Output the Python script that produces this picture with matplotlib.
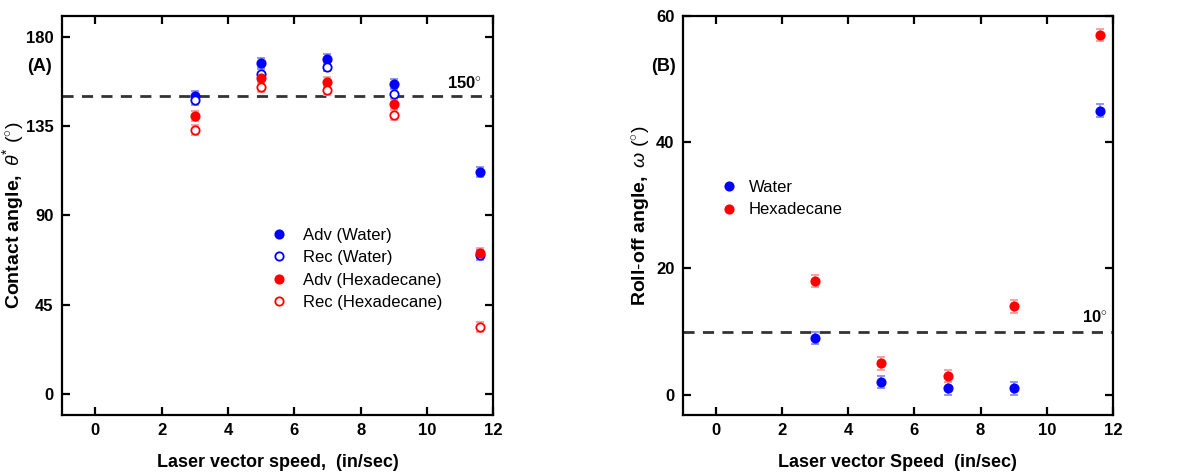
import matplotlib
matplotlib.use('Agg')
import matplotlib.pyplot as plt
from matplotlib.lines import Line2D

plt.rcParams['font.family'] = ['Liberation Sans', 'DejaVu Sans']
plt.rcParams['mathtext.fontset'] = 'custom'
plt.rcParams['mathtext.rm'] = 'Liberation Sans'
plt.rcParams['mathtext.it'] = 'Liberation Sans:italic'
plt.rcParams['mathtext.bf'] = 'Liberation Sans:bold'

# 数据 (A) 接触角
speed = [3, 5, 7, 9, 11.6]
adv_water = [150, 167, 169, 156, 112]
rec_water = [148, 161, 165, 151, 70]
adv_hex = [140, 159, 157, 146, 71]
rec_hex = [133, 154.5, 153, 140.5, 34]
err_a = [2.5, 2.5, 2.5, 2.5, 2.5]

# 数据 (B) 滚动角
roll_water = [9, 2, 1, 1, 45]
roll_hex = [18, 5, 3, 14, 57]
err_b = [1, 1, 1, 1, 1]

blue, lblue = '#0000ff', '#8c8cff'
red, lred = '#ff0000', '#ff9a9a'

fig = plt.figure(figsize=(11.98, 4.74), dpi=100)
ax1 = fig.add_axes([0.0518, 0.1245, 0.360, 0.842])
ax2 = fig.add_axes([0.570, 0.1245, 0.359, 0.842])


def style(ax):
    for s in ax.spines.values():
        s.set_linewidth(1.6)
    ax.tick_params(direction='in', length=6, width=1.6, top=True, right=True,
                   labelsize=12, pad=6)
    for lab in ax.get_xticklabels() + ax.get_yticklabels():
        lab.set_fontweight('bold')


def pts(ax, y, e, c, ec, filled):
    ax.errorbar(speed, y, yerr=e, fmt='o', ms=6, mew=1.3,
                mfc=c if filled else 'white', mec=c, ecolor=ec,
                elinewidth=1.2, capsize=3, capthick=1.2, zorder=3)


def handle(c, filled, label):
    return Line2D([], [], ls='none', marker='o', ms=6, mew=1.3,
                  mfc=c if filled else 'white', mec=c, label=label)


# 图 (A)
pts(ax1, adv_water, err_a, blue, lblue, True)
pts(ax1, rec_water, err_a, blue, lblue, False)
pts(ax1, adv_hex, err_a, red, lred, True)
pts(ax1, rec_hex, err_a, red, lred, False)
ax1.axhline(150, color='#333333', lw=2, ls=(0, (4, 3)), zorder=1)
ax1.text(10.6, 154, '150$^{\\circ}$', fontsize=12, fontweight='bold')
ax1.set_xlim(-1, 12)
ax1.set_ylim(-10.5, 190.5)
ax1.set_xticks(range(0, 13, 2))
ax1.set_yticks([0, 45, 90, 135, 180])
ax1.set_xlabel('Laser vector speed,  (in/sec)', fontsize=13, fontweight='bold', labelpad=11)
ax1.set_ylabel(r'$\mathbf{Contact\ angle,}$ $\mathit{\theta^{*}}$ ($^{\circ}$)', fontsize=14, labelpad=0)
ax1.legend(handles=[handle(blue, True, 'Adv (Water)'), handle(blue, False, 'Rec (Water)'),
                    handle(red, True, 'Adv (Hexadecane)'), handle(red, False, 'Rec (Hexadecane)')],
           loc='upper left', bbox_to_anchor=(0.465, 0.49), frameon=False, fontsize=12,
           handlelength=1.0, handletextpad=0.9, labelspacing=0.45, borderpad=0)
style(ax1)

# 图 (B)
pts(ax2, roll_water, err_b, blue, lblue, True)
pts(ax2, roll_hex, err_b, red, lred, True)
ax2.axhline(10, color='#333333', lw=2, ls=(0, (4, 3)), zorder=1)
ax2.text(11.05, 11.6, '10$^{\\circ}$', fontsize=12, fontweight='bold')
ax2.set_xlim(-1, 12)
ax2.set_ylim(-3.2, 60)
ax2.set_xticks(range(0, 13, 2))
ax2.set_yticks([0, 20, 40, 60])
ax2.set_xlabel('Laser vector Speed  (in/sec)', fontsize=13, fontweight='bold', labelpad=11)
ax2.set_ylabel(r'$\mathbf{Roll\text{-}off\ angle,}$ $\mathit{\omega}$ ($^{\circ}$)', fontsize=14, labelpad=2)
ax2.legend(handles=[handle(blue, True, 'Water'), handle(red, True, 'Hexadecane')],
           loc='upper left', bbox_to_anchor=(0.068, 0.61), frameon=False, fontsize=12,
           handlelength=1.0, handletextpad=0.7, labelspacing=0.45, borderpad=0)
style(ax2)

fig.text(27 / 1198, 1 - 67 / 474, '(A)', fontsize=13, fontweight='bold', va='center')
fig.text(651 / 1198, 1 - 67 / 474, '(B)', fontsize=13, fontweight='bold', va='center')

fig.savefig('out.png', dpi=100)
